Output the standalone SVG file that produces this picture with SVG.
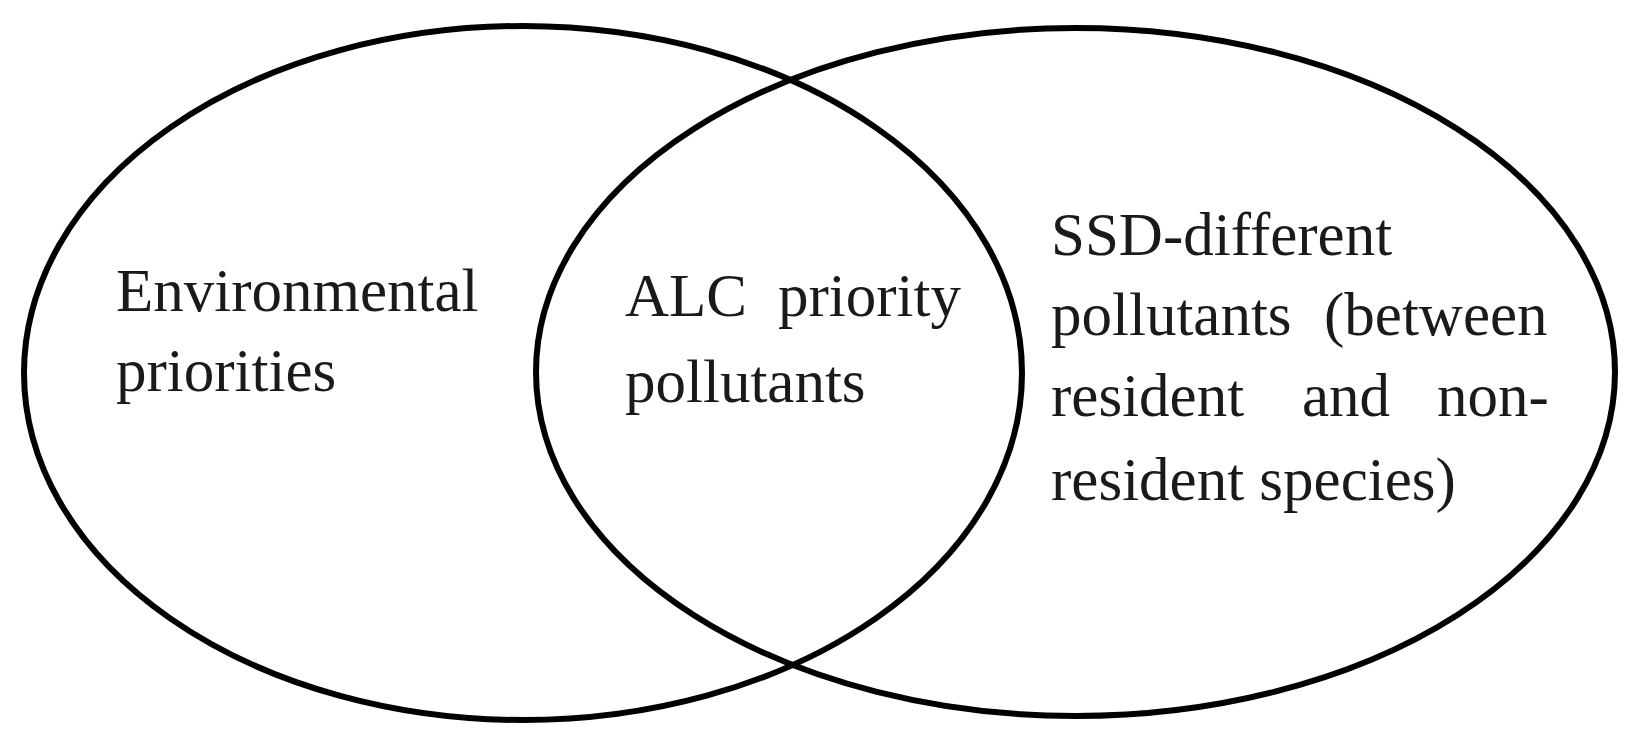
<svg xmlns="http://www.w3.org/2000/svg" width="1643" height="747" viewBox="0 0 1643 747">
<style>
.set{fill:none;stroke:#000;stroke-width:6}
.lbl{font-family:"Liberation Serif","Times New Roman",serif;font-size:61px;fill:#1a1a1a}
</style>
<rect width="1643" height="747" fill="#fff"/>
<g id="set-environmental">
<ellipse class="set" cx="523" cy="373" rx="499" ry="347"/>
<text class="lbl" x="116" y="311">Environmental</text>
<text class="lbl" x="116" y="391">priorities</text>
</g>
<g id="set-ssd">
<ellipse class="set" cx="1075.5" cy="372" rx="539.5" ry="344"/>
<text class="lbl" y="255"><tspan x="1051">SSD-different</tspan></text>
<text class="lbl" y="335"><tspan x="1051">pollutants</tspan><tspan x="1324">(between</tspan></text>
<text class="lbl" y="416"><tspan x="1051">resident</tspan><tspan x="1302">and</tspan><tspan x="1437">non-</tspan></text>
<text class="lbl" y="500"><tspan x="1051">resident species)</tspan></text>
</g>
<g id="set-alc">
<text class="lbl" y="316"><tspan x="625">ALC</tspan><tspan x="778">priority</tspan></text>
<text class="lbl" x="625" y="402">pollutants</text>
</g>
<g id="connectors"></g>
</svg>
